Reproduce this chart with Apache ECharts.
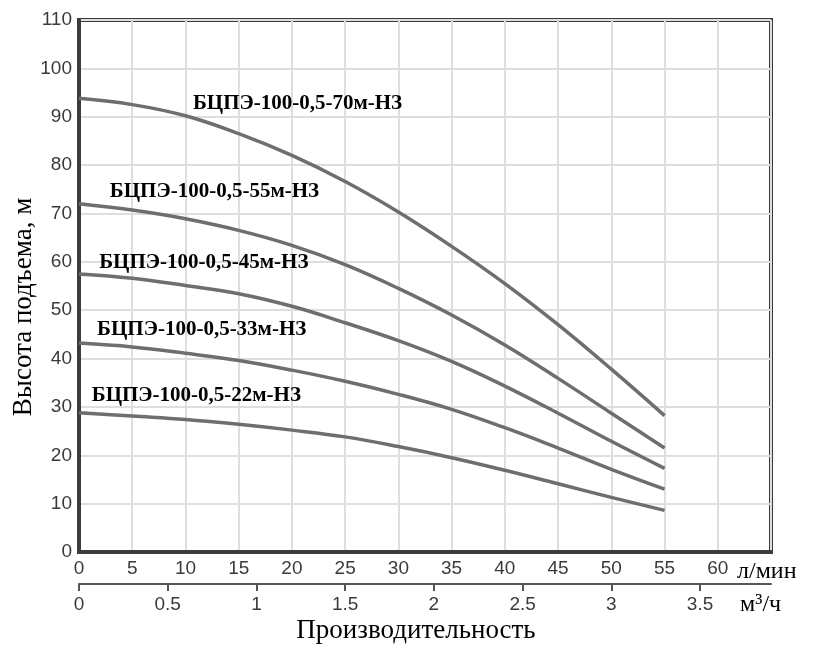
<!DOCTYPE html>
<html>
<head>
<meta charset="utf-8">
<script src="https://cdn.jsdelivr.net/npm/echarts@6/dist/echarts.min.js"></script>
<style>
  html, body { margin: 0; padding: 0; background: #fff; }
  #main { width: 833px; height: 647px; }
</style>
</head>
<body>
<div id="main"></div>
<script>
// flow, l/min
var flow = [0, 5, 10, 15, 20, 25, 30, 35, 40, 45, 50, 55];

// head, m
var head70 = [93.8, 92.5, 90.2, 86.5, 82.0, 76.6, 70.3, 63.2, 55.5, 47.0, 37.8, 28.2];
var head55 = [72.0, 70.7, 68.9, 66.5, 63.4, 59.4, 54.5, 49.0, 42.8, 35.9, 28.7, 21.5];
var head45 = [57.5, 56.6, 55.1, 53.4, 50.8, 47.4, 43.7, 39.4, 34.3, 28.7, 22.9, 17.3];
var head33 = [43.2, 42.4, 41.1, 39.6, 37.6, 35.3, 32.6, 29.5, 25.7, 21.5, 17.1, 13.0];
var head22 = [28.8, 28.1, 27.4, 26.4, 25.2, 23.8, 21.8, 19.5, 16.9, 14.1, 11.3, 8.6];

var names = [
  'БЦПЭ-100-0,5-70м-НЗ',
  'БЦПЭ-100-0,5-55м-НЗ',
  'БЦПЭ-100-0,5-45м-НЗ',
  'БЦПЭ-100-0,5-33м-НЗ',
  'БЦПЭ-100-0,5-22м-НЗ'
];
var heads = [head70, head55, head45, head33, head22];

// where each curve caption starts (flow, head)
var labelAt = [[10.7, 92.7], [2.9, 74.6], [1.9, 59.8], [1.7, 46.0], [1.2, 32.4]];

var dom = document.getElementById('main');
var myChart = echarts.init(dom, null, { renderer: 'canvas' });

function toPairs(ys) {
  return flow.map(function (x, i) { return [x, ys[i]]; });
}

var tickFont = { fontFamily: 'Liberation Sans, Arial, sans-serif', fontSize: 19, color: '#3a3a3a' };
var serif = 'Liberation Serif, Times New Roman, serif';

var option = {
  animation: false,
  backgroundColor: '#fff',
  grid: {
    left: 79, top: 20, width: 692, height: 532,
    containLabel: false, outerBoundsMode: 'none',
    show: true, borderColor: '#3c3c3c', borderWidth: 4, backgroundColor: 'transparent'
  },
  xAxis: [{
    type: 'value', min: 0, max: 65, interval: 5, position: 'bottom',
    axisLine: { show: true, onZero: false, lineStyle: { color: '#3c3c3c', width: 4 } },
    axisTick: { show: false },
    splitLine: { show: true, lineStyle: { color: '#dedede', width: 2 } },
    axisLabel: Object.assign({
      margin: 7,
      formatter: function (v) { return v > 60 ? '' : String(v); }
    }, tickFont)
  }, {
    type: 'value', min: 0, max: 3.9, interval: 0.5, position: 'bottom', offset: 32,
    axisLine: { show: true, onZero: false, lineStyle: { color: '#555', width: 2 } },
    axisTick: { show: true, length: 7, lineStyle: { color: '#555', width: 2 } },
    splitLine: { show: false },
    axisLabel: Object.assign({
      margin: 11,
      showMaxLabel: false,
      formatter: function (v) { return (Math.round(v * 2) === v * 2) ? String(v) : ''; }
    }, tickFont),
    name: 'Производительность',
    nameLocation: 'middle',
    nameGap: 33,
    nameMoveOverlap: false,
    nameTextStyle: { fontFamily: serif, fontSize: 27, color: '#000', padding: [0, 18, 0, 0] }
  }],
  yAxis: [{
    type: 'value', min: 0, max: 110, interval: 10,
    axisLine: { show: true, lineStyle: { color: '#3c3c3c', width: 4 } },
    axisTick: { show: false },
    splitLine: { show: true, lineStyle: { color: '#dedede', width: 2 } },
    axisLabel: Object.assign({ margin: 7 }, tickFont),
    name: 'Высота подъема, м',
    nameLocation: 'middle',
    nameRotate: 90,
    nameGap: 42,
    nameMoveOverlap: false,
    nameTextStyle: { fontFamily: serif, fontSize: 27, color: '#000', padding: [0, 42, 0, 0] }
  }],
  series: heads.map(function (h, i) {
    return {
      name: names[i],
      type: 'line',
      xAxisIndex: 0,
      yAxisIndex: 0,
      smooth: 0.4,
      showSymbol: false,
      data: toPairs(h),
      lineStyle: { color: '#6e6e6e', width: 3.5 },
      z: 3
    };
  })
};

myChart.setOption(option);

// curve captions and unit marks
var graphics = names.map(function (n, i) {
  var p = myChart.convertToPixel({ xAxisIndex: 0, yAxisIndex: 0 }, labelAt[i]);
  return {
    type: 'text', x: p[0], y: p[1], z: 10,
    style: {
      text: n, fill: '#000', font: 'bold 21px ' + serif,
      textAlign: 'left', textVerticalAlign: 'middle'
    }
  };
});
var unitL = myChart.convertToPixel({ xAxisIndex: 0, yAxisIndex: 0 }, [65, 0]);
var unitM = myChart.convertToPixel({ xAxisIndex: 1, yAxisIndex: 0 }, [3.9, 0]);
graphics.push({
  type: 'text', x: unitL[0] - 34, y: unitL[1] + 20, z: 10,
  style: { text: 'л/мин', fill: '#000', font: '24px ' + serif, textAlign: 'left', textVerticalAlign: 'middle' }
});
graphics.push({
  type: 'text', x: unitM[0] - 31, y: unitL[1] + 53, z: 10,
  style: { text: 'м³/ч', fill: '#000', font: '24px ' + serif, textAlign: 'left', textVerticalAlign: 'middle' }
});
myChart.setOption({ graphic: graphics });

window.addEventListener('resize', myChart.resize);
</script>
</body>
</html>
